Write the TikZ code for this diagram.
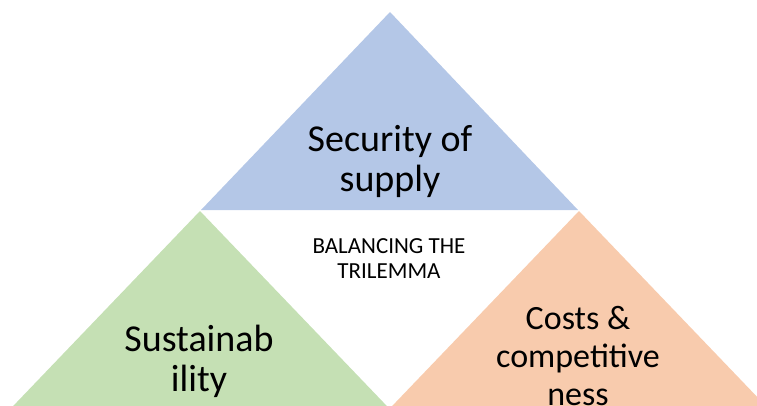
\documentclass[tikz,border=0pt]{standalone}
\usepackage{fontspec}
\setmainfont{Carlito}
\definecolor{supplyblue}{HTML}{B4C7E7}
\definecolor{sustgreen}{HTML}{C5E0B4}
\definecolor{costorange}{HTML}{F8CBAD}
\begin{document}
\begin{tikzpicture}[x=1pt,y=-1pt,
  label/.style={align=center,inner sep=0pt,text=black},
  bigtext/.style={label,font=\fontsize{38}{40}\selectfont},
  midtext/.style={label,font=\fontsize{34}{38}\selectfont},
  smalltext/.style={label,font=\fontsize{23}{25}\selectfont}]
\useasboundingbox (0,0) rectangle (757,406);
\clip (0,0) rectangle (757,406);
% three triangles of the trilemma
\fill[supplyblue] (390,12) -- (201,210) -- (578,210) -- cycle;
\fill[sustgreen] (200,211) -- (-29,450) -- (429,450) -- cycle;
\fill[costorange] (579,211) -- (350,450) -- (808,450) -- cycle;
% labels
\node[bigtext] (supply) at (390,161) {Security of\\supply};
\node[bigtext] (sust) at (199,361) {Sustainab\\ility};
\node[midtext] (costs) at (578,356) {Costs \&\\competitive\\ness};
\node[smalltext] (trilemma) at (389,259) {BALANCING THE\\TRILEMMA};
\end{tikzpicture}
\end{document}
